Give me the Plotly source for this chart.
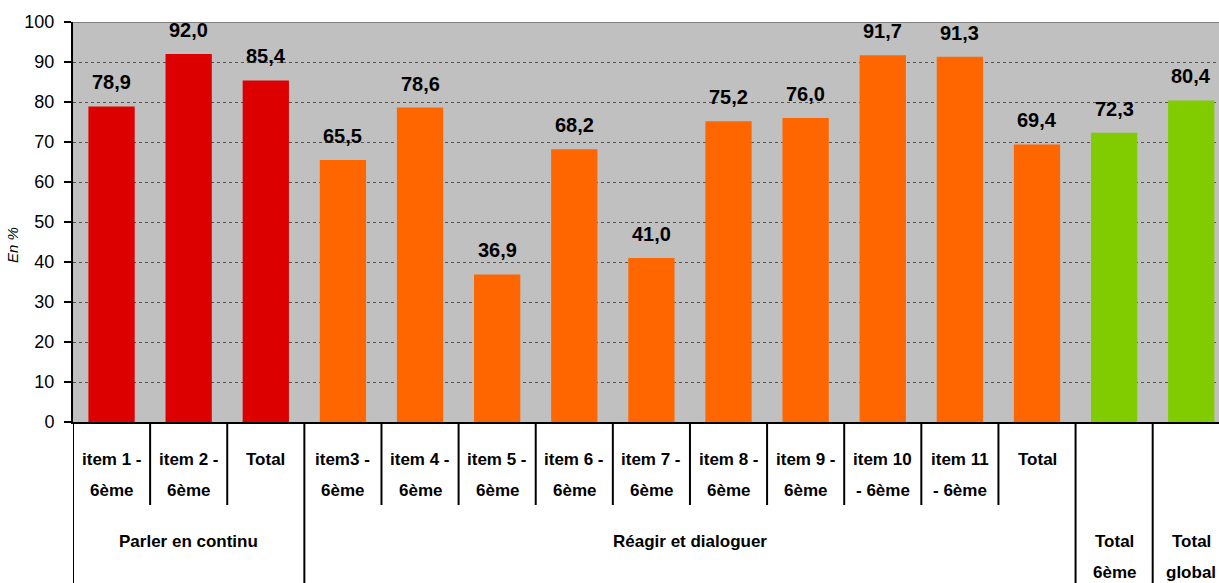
import plotly.graph_objects as go

labels_line1 = ["item 1 -", "item 2 -", "Total", "item3 -", "item 4 -", "item 5 -", "item 6 -",
                "item 7 -", "item 8 -", "item 9 -", "item 10", "item 11", "Total", "", ""]
labels_line2 = ["6ème", "6ème", "", "6ème", "6ème", "6ème", "6ème",
                "6ème", "6ème", "6ème", "- 6ème", "- 6ème", "", "", ""]
values = [78.9, 92.0, 85.4, 65.5, 78.6, 36.9, 68.2, 41.0, 75.2, 76.0, 91.7, 91.3, 69.4, 72.3, 80.4]
value_text = ["78,9", "92,0", "85,4", "65,5", "78,6", "36,9", "68,2", "41,0", "75,2", "76,0",
              "91,7", "91,3", "69,4", "72,3", "80,4"]
bar_group = ["parler"] * 3 + ["reagir"] * 10 + ["total", "total"]
group_names = ["Parler en continu", "Réagir et dialoguer", "Total<br>6ème", "Total<br>global"]
group_span = [(0, 2), (3, 12), (13, 13), (14, 14)]
y_title = "En %"

group_colors = {"parler": "#DD0000", "reagir": "#FF6600", "total": "#80CC00"}
x = list(range(len(values)))
colors = [group_colors[g] for g in bar_group]

FONT = "Liberation Sans, Arial"

TOP = 22
LEFT = 73
PLOT_H = 400
fig_h = 583
fig_w = 1219

fig = go.Figure(go.Bar(x=x, y=values, marker=dict(color=colors, line=dict(width=0)),
                       width=0.6, hoverinfo="skip"))

# value labels
for i, (v, t) in enumerate(zip(values, value_text)):
    fig.add_annotation(x=i, y=v, text=f"<b>{t}</b>", showarrow=False, yanchor="bottom",
                       yshift=11, font=dict(family=FONT, size=20, color="black"))

def py(pix):
    # pixel y in the screenshot -> paper coordinate
    return (TOP + PLOT_H - pix) / PLOT_H

# category labels
for i, (a, b) in enumerate(zip(labels_line1, labels_line2)):
    if a:
        fig.add_annotation(x=i, y=py(459), xref="x", yref="paper", text=f"<b>{a}</b>",
                           showarrow=False, yanchor="middle",
                           font=dict(family=FONT, size=17, color="black"))
    if b:
        fig.add_annotation(x=i, y=py(490), xref="x", yref="paper", text=f"<b>{b}</b>",
                           showarrow=False, yanchor="middle",
                           font=dict(family=FONT, size=17, color="black"))

for name, (s, e) in zip(group_names, group_span):
    parts = name.split("<br>")
    for k, p in enumerate(parts):
        fig.add_annotation(x=(s + e) / 2, y=py(541 + 31 * k), xref="x", yref="paper",
                           text=f"<b>{p}</b>", showarrow=False, yanchor="middle",
                           font=dict(family=FONT, size=17, color="black"))

# y-axis title
fig.add_annotation(x=0, y=py(245), xref="paper", yref="paper", xshift=-61, text=f"<i>{y_title}</i>",
                   textangle=-90, showarrow=False, xanchor="center", yanchor="middle",
                   font=dict(family=FONT, size=15, color="black"))

# table lines
group_bounds = set([s - 0.5 for s, e in group_span])
for i in range(len(values)):
    xb = i - 0.5
    y_end = py(600) if xb in group_bounds else py(505)
    fig.add_shape(type="line", xref="x", yref="paper", x0=xb, x1=xb, y0=0, y1=y_end,
                  line=dict(color="black", width=2))

fig.update_layout(
    width=fig_w, height=fig_h,
    margin=dict(l=LEFT, r=0, t=TOP, b=fig_h - TOP - PLOT_H, autoexpand=False),
    plot_bgcolor="#C0C0C0", paper_bgcolor="white",
    showlegend=False,
    xaxis=dict(range=[-0.5, 14.36], showticklabels=False, showgrid=False, zeroline=False,
               showline=True, linecolor="black", linewidth=2, ticks=""),
    yaxis=dict(range=[0, 100], dtick=10, showgrid=True, gridcolor="#555555", griddash="dot",
               gridwidth=1, zeroline=False, showline=True, linecolor="black", linewidth=2,
               ticks="outside", ticklen=7, tickcolor="black", tickwidth=2,
               ticklabelstandoff=6,
               tickfont=dict(family="Liberation Sans, Arial", size=18, color="black")),
)
fig.add_shape(type="line", xref="paper", yref="y", x0=0, x1=1, y0=100, y1=100,
              line=dict(color="#808080", width=2))

fig.write_html("out.html", config={"displayModeBar": False},
               post_script="document.body.style.margin='0';document.body.style.overflow='hidden';")
